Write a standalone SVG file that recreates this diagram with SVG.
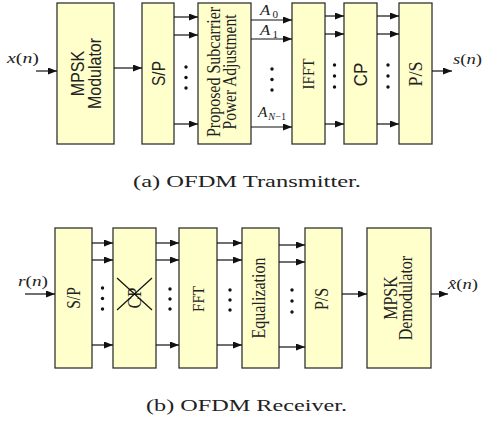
<svg xmlns="http://www.w3.org/2000/svg" width="484" height="424" viewBox="0 0 484 424">
<style>
.box{fill:#ffffcc;stroke:#333;stroke-width:1.3}
.ln{stroke:#111;stroke-width:1.2;fill:none}
.ar{stroke:#111;stroke-width:1.2;fill:none;marker-end:url(#ah)}
.dot{fill:#111}
.sans{font-family:"Liberation Sans",Arial,sans-serif;fill:#222}
.serif{font-family:"Liberation Serif","Times New Roman",serif;fill:#222}
.it{font-style:italic}
.cap{font-family:"Liberation Serif","Times New Roman",serif;font-size:16px;fill:#222}
</style>
<defs>
<marker id="ah" markerWidth="9" markerHeight="7" refX="9" refY="3.5" orient="auto" markerUnits="userSpaceOnUse">
<path d="M0,0 L9,3.5 L0,7 z" fill="#111"/>
</marker>
</defs>

<!-- Transmitter nodes -->
<g id="tx-mpsk">
<rect class="box" x="57" y="3" width="57" height="141"/>
<text class="sans" font-size="16" text-anchor="middle" dy="0.36em" transform="translate(77,73.5) scale(1.15,1) rotate(-90)">MPSK</text>
<text class="sans" font-size="16" text-anchor="middle" dy="0.33em" transform="translate(95,73.5) scale(1.15,1) rotate(-90)">Modulator</text>
</g>
<g id="tx-sp">
<rect class="box" x="142" y="3" width="32" height="141"/>
<text class="sans" font-size="15.5" text-anchor="middle" dy="0.36em" transform="translate(159,73.5) scale(1.15,1) rotate(-90)">S/P</text>
</g>
<g id="tx-power">
<rect class="box" x="198" y="3" width="53" height="141"/>
<text class="serif" font-size="16" text-anchor="middle" dy="0.3em" transform="translate(214.5,72) scale(1.15,1) rotate(-90)">Proposed Subcarrier</text>
<text class="serif" font-size="15.5" text-anchor="middle" dy="0.3em" transform="translate(230.5,72) scale(1.15,1) rotate(-90)">Power Adjustment</text>
</g>
<g id="tx-ifft">
<rect class="box" x="292" y="3" width="33" height="141"/>
<text class="serif" font-size="15" text-anchor="middle" dy="0.34em" transform="translate(308.5,74) scale(1.15,1) rotate(-90)">IFFT</text>
</g>
<g id="tx-cp">
<rect class="box" x="344" y="3" width="33" height="141"/>
<text class="sans" font-size="17" text-anchor="middle" dy="0.36em" transform="translate(361,74.5) scale(1.05,1) rotate(-90)">CP</text>
</g>
<g id="tx-ps">
<rect class="box" x="399" y="3" width="33" height="141"/>
<text class="serif" font-size="18" text-anchor="middle" dy="0.34em" transform="translate(415.5,74) scale(1.05,1) rotate(-90)">P/S</text>
</g>

<!-- Receiver nodes -->
<g id="rx-sp">
<rect class="box" x="55" y="228" width="37" height="140"/>
<text class="serif" font-size="15.5" text-anchor="middle" dy="0.34em" transform="translate(73.5,298) scale(1.15,1) rotate(-90)">S/P</text>
</g>
<g id="rx-cp">
<rect class="box" x="113" y="228" width="43" height="140"/>
<text class="serif" font-size="17" text-anchor="middle" dy="0.34em" transform="translate(134.5,298) scale(1.1,1) rotate(-90)">CP</text>
<line class="ln" x1="117" y1="278" x2="152" y2="310" stroke-width="1.6"/>
<line class="ln" x1="117" y1="310" x2="152" y2="278" stroke-width="1.6"/>
</g>
<g id="rx-fft">
<rect class="box" x="179" y="228" width="38" height="140"/>
<text class="serif" font-size="15" text-anchor="middle" dy="0.34em" transform="translate(198,299) scale(1.15,1) rotate(-90)">FFT</text>
</g>
<g id="rx-eq">
<rect class="box" x="242" y="228" width="37" height="140"/>
<text class="serif" font-size="16" text-anchor="middle" dy="0.3em" transform="translate(259.5,298) scale(1.15,1) rotate(-90)">Equalization</text>
</g>
<g id="rx-ps">
<rect class="box" x="305" y="228" width="37" height="140"/>
<text class="serif" font-size="16" text-anchor="middle" dy="0.34em" transform="translate(322,299) scale(1.15,1) rotate(-90)">P/S</text>
</g>
<g id="rx-demod">
<rect class="box" x="367" y="228" width="64" height="140"/>
<text class="serif" font-size="16" text-anchor="middle" dy="0.34em" transform="translate(390.5,298) scale(1.15,1) rotate(-90)">MPSK</text>
<text class="serif" font-size="16" text-anchor="middle" dy="0.3em" transform="translate(406.5,298) scale(1.15,1) rotate(-90)">Demodulator</text>
</g>

<!-- Connectors -->
<g id="connectors">
<line class="ar" x1="36" y1="71" x2="57" y2="71"/>
<line class="ar" x1="114" y1="68" x2="142" y2="68"/>
<line class="ar" x1="174" y1="17" x2="198" y2="17"/>
<line class="ar" x1="174" y1="35" x2="198" y2="35"/>
<line class="ar" x1="174" y1="124" x2="198" y2="124"/>
<line class="ar" x1="251" y1="20" x2="292" y2="20"/>
<line class="ar" x1="251" y1="39" x2="292" y2="39"/>
<line class="ar" x1="251" y1="127" x2="292" y2="127"/>
<line class="ar" x1="325" y1="16" x2="344" y2="16"/>
<line class="ar" x1="325" y1="34" x2="344" y2="34"/>
<line class="ar" x1="325" y1="124" x2="344" y2="124"/>
<line class="ar" x1="377" y1="16" x2="399" y2="16"/>
<line class="ar" x1="377" y1="34" x2="399" y2="34"/>
<line class="ar" x1="377" y1="124" x2="399" y2="124"/>
<line class="ar" x1="432" y1="71" x2="452" y2="71"/>

<line class="ar" x1="25" y1="294" x2="55" y2="294"/>
<line class="ar" x1="92" y1="243" x2="113" y2="243"/>
<line class="ar" x1="92" y1="260" x2="113" y2="260"/>
<line class="ar" x1="92" y1="345" x2="113" y2="345"/>
<line class="ar" x1="156" y1="243" x2="179" y2="243"/>
<line class="ar" x1="156" y1="260" x2="179" y2="260"/>
<line class="ar" x1="156" y1="345" x2="179" y2="345"/>
<line class="ar" x1="217" y1="243" x2="242" y2="243"/>
<line class="ar" x1="217" y1="260" x2="242" y2="260"/>
<line class="ar" x1="217" y1="345" x2="242" y2="345"/>
<line class="ar" x1="279" y1="245" x2="305" y2="245"/>
<line class="ar" x1="279" y1="262" x2="305" y2="262"/>
<line class="ar" x1="279" y1="347" x2="305" y2="347"/>
<line class="ar" x1="342" y1="294" x2="367" y2="294"/>
<line class="ar" x1="431" y1="294" x2="448" y2="294"/>

<g class="dot">
<circle cx="186" cy="67" r="1.7"/><circle cx="186" cy="77.5" r="1.7"/><circle cx="186" cy="88" r="1.7"/>
<circle cx="272" cy="69" r="1.7"/><circle cx="272" cy="79.5" r="1.7"/><circle cx="272" cy="90" r="1.7"/>
<circle cx="334.5" cy="65" r="1.7"/><circle cx="334.5" cy="76" r="1.7"/><circle cx="334.5" cy="87" r="1.7"/>
<circle cx="388" cy="65" r="1.7"/><circle cx="388" cy="76" r="1.7"/><circle cx="388" cy="87" r="1.7"/>
<circle cx="102.5" cy="288" r="1.7"/><circle cx="102.5" cy="298.5" r="1.7"/><circle cx="102.5" cy="309" r="1.7"/>
<circle cx="170" cy="289" r="1.7"/><circle cx="170" cy="299" r="1.7"/><circle cx="170" cy="309" r="1.7"/>
<circle cx="230" cy="290" r="1.7"/><circle cx="230" cy="300" r="1.7"/><circle cx="230" cy="310" r="1.7"/>
<circle cx="292" cy="290" r="1.7"/><circle cx="292" cy="301" r="1.7"/><circle cx="292" cy="312" r="1.7"/>
</g>
</g>

<!-- Signal labels -->
<g id="labels" class="serif" font-size="15">
<text x="7" y="63" textLength="32" lengthAdjust="spacingAndGlyphs"><tspan class="it">x</tspan>(<tspan class="it">n</tspan>)</text>
<text x="453" y="64" textLength="29" lengthAdjust="spacingAndGlyphs"><tspan class="it">s</tspan>(<tspan class="it">n</tspan>)</text>
<text x="18" y="286" textLength="30" lengthAdjust="spacingAndGlyphs"><tspan class="it">r</tspan>(<tspan class="it">n</tspan>)</text>
<text x="448" y="289" textLength="30" lengthAdjust="spacingAndGlyphs"><tspan class="it">x̂</tspan>(<tspan class="it">n</tspan>)</text>
<text x="260" y="15" textLength="18" lengthAdjust="spacingAndGlyphs"><tspan class="it">A</tspan><tspan font-size="10" dx="2" dy="3">0</tspan></text>
<text x="260" y="35" textLength="18" lengthAdjust="spacingAndGlyphs"><tspan class="it">A</tspan><tspan font-size="10" dx="2" dy="3">1</tspan></text>
<text x="258" y="117" textLength="28" lengthAdjust="spacingAndGlyphs"><tspan class="it">A</tspan><tspan font-size="10" dx="1" dy="3"><tspan class="it">N</tspan>−1</tspan></text>
</g>

<!-- Captions -->
<text class="cap" x="133" y="187" textLength="228" lengthAdjust="spacingAndGlyphs">(a) OFDM Transmitter.</text>
<text class="cap" x="146" y="411" textLength="201" lengthAdjust="spacingAndGlyphs">(b) OFDM Receiver.</text>
</svg>
